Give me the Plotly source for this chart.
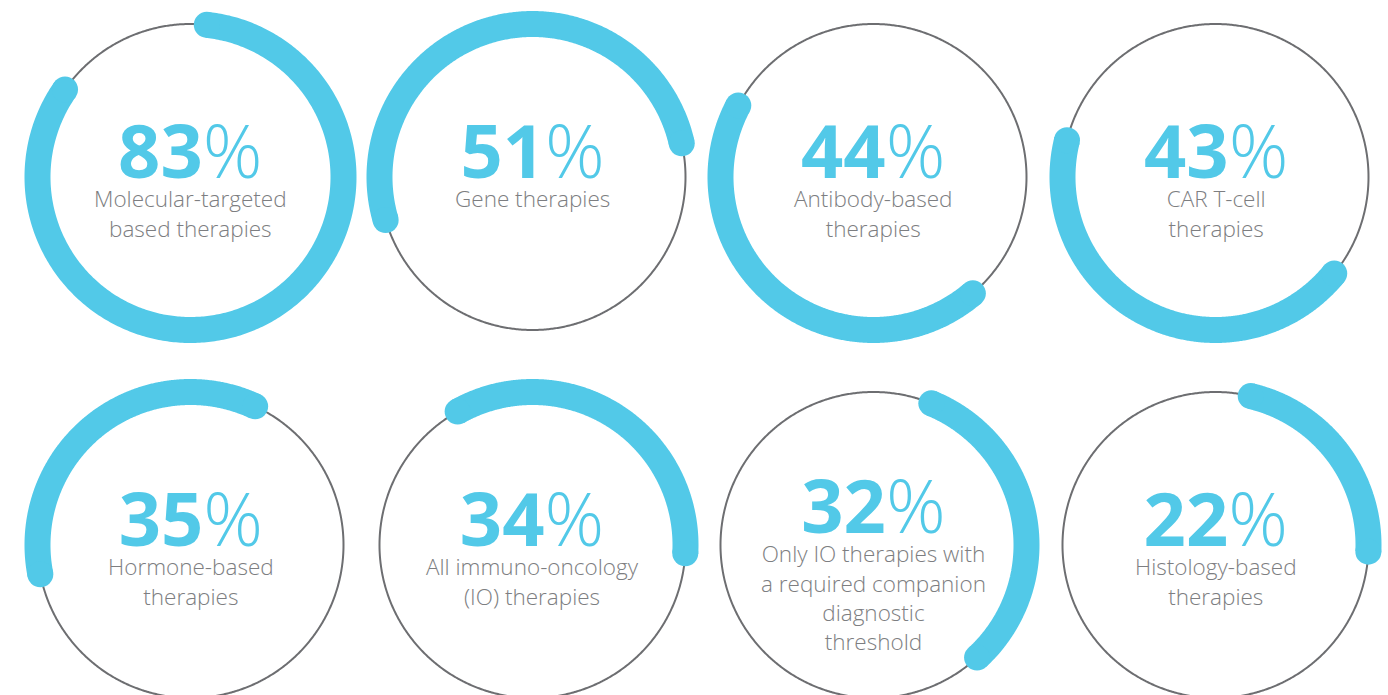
import numpy as np
import plotly.graph_objects as go

# ---- data ----
percent_values = [83, 51, 44, 43, 35, 34, 32, 22]
category_labels = [
    "Molecular-targeted<br>based therapies",
    "Gene therapies",
    "Antibody-based<br>therapies",
    "CAR T-cell<br>therapies",
    "Hormone-based<br>therapies",
    "All immuno-oncology<br>(IO) therapies",
    "Only IO therapies with<br>a required companion<br>diagnostic<br>threshold",
    "Histology-based<br>therapies",
]

# ---- style / layout ----
W, H = 1388, 695
ARC = "#52C9E8"
RING = "#6D6E71"
LABEL = "#7D7E81"
FONT = "Open Sans"
col_x = [190.5, 532.5, 873.5, 1215.5]
row_y = [177, 545]
R = 153
ARC_W = 26
# rotation of each arc's midpoint, degrees clockwise from 12 o'clock
arc_mid_deg = [155.5, 345.5, 218.7, 206.5, 322.0, 31.9, 79.8, 52.9]
# vertical offset of the text block per gauge
text_shift = [0, 0, 0, 0, 0, 0, -13, 0]

fig = go.Figure()
annotations = []

for i, (v, lab) in enumerate(zip(percent_values, category_labels)):
    cx = col_x[i % 4]
    cy = row_y[i // 4]
    # ring
    t = np.linspace(0, 2 * np.pi, 721)
    fig.add_trace(go.Scatter(x=cx + R * np.sin(t), y=cy - R * np.cos(t), mode="lines",
                             line=dict(color=RING, width=2, simplify=False),
                             hoverinfo="skip", showlegend=False))
    # arc
    span = v / 100 * 360
    a0 = np.deg2rad(arc_mid_deg[i] - span / 2)
    a1 = np.deg2rad(arc_mid_deg[i] + span / 2)
    a = np.linspace(a0, a1, 400)
    ax_ = cx + R * np.sin(a)
    ay_ = cy - R * np.cos(a)
    fig.add_trace(go.Scatter(x=ax_, y=ay_, mode="lines",
                             line=dict(color=ARC, width=ARC_W, simplify=False),
                             hoverinfo="skip", showlegend=False))
    fig.add_trace(go.Scatter(x=[ax_[0], ax_[-1]], y=[ay_[0], ay_[-1]], mode="markers",
                             marker=dict(color=ARC, size=ARC_W, line=dict(width=0)),
                             hoverinfo="skip", showlegend=False))
    ts = text_shift[i]
    txt = (f"<span style='font-size:74px;fill:{ARC}'><b>{v}</b>%</span><br>" + lab)
    annotations.append(dict(x=cx, y=cy - 80 + ts, xref="x", yref="y", showarrow=False,
                            text=txt, xanchor="center", yanchor="top", align="center",
                            font=dict(family=FONT, size=22.5, color=LABEL, weight=300)))

fig.update_layout(
    width=W, height=H, margin=dict(l=0, r=0, t=0, b=0),
    paper_bgcolor="white", plot_bgcolor="white",
    xaxis=dict(range=[0, W], visible=False, fixedrange=True),
    yaxis=dict(range=[H, 0], visible=False, fixedrange=True),
    annotations=annotations, showlegend=False,
)
fig.write_html("out.html")
